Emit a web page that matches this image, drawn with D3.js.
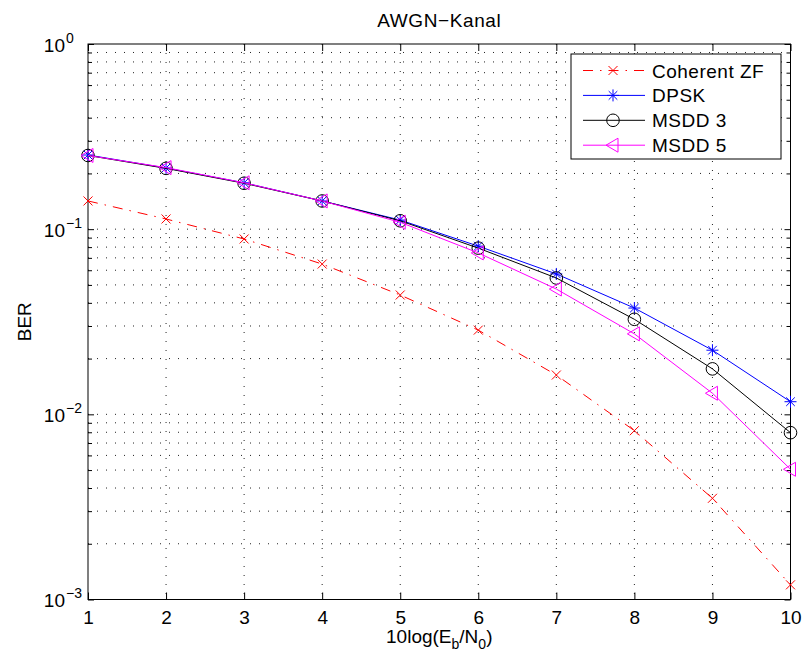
<!DOCTYPE html>
<html>
<head>
<meta charset="utf-8">
<script src="https://cdn.jsdelivr.net/npm/d3@7"></script>
<style>
  body { margin: 0; background: #fff; }
  text { font-family: "Liberation Sans", Arial, sans-serif; fill: #000; }
</style>
</head>
<body>
<div class="chart"></div>
<script>
// Eb/N0 in dB
const snrDb = [1, 2, 3, 4, 5, 6, 7, 8, 9, 10];
const berCoherentZF = [0.142, 0.1135, 0.0885, 0.0648, 0.0441, 0.0285, 0.0163, 0.00816, 0.00352, 0.0012];
const berDPSK = [0.2515, 0.214, 0.178, 0.142, 0.112, 0.081, 0.0573, 0.0375, 0.0222, 0.0117];
const berMSDD3 = [0.25, 0.213, 0.177, 0.142, 0.111, 0.079, 0.0545, 0.0326, 0.0176, 0.00796];
const berMSDD5 = [0.25, 0.215, 0.178, 0.142, 0.109, 0.0744, 0.0475, 0.0272, 0.0130, 0.00505];
const seriesNames = ["Coherent ZF", "DPSK", "MSDD 3", "MSDD 5"];
const xTicks = [1, 2, 3, 4, 5, 6, 7, 8, 9, 10];
const yDecades = [-3, -2, -1, 0];

const margin = { top: 44, right: 12.5, bottom: 55.5, left: 88 },
  width = 803 - margin.left - margin.right,
  height = 655 - margin.top - margin.bottom,
  fontSize = 19

const series = [
  { name: seriesNames[0], values: berCoherentZF, color: "#ff0000", dash: "10,7,1.5,7", marker: "x" },
  { name: seriesNames[1], values: berDPSK, color: "#0000ff", dash: null, marker: "star" },
  { name: seriesNames[2], values: berMSDD3, color: "#000000", dash: null, marker: "circle" },
  { name: seriesNames[3], values: berMSDD5, color: "#ff00ff", dash: null, marker: "triangle" }
]

const svg = d3.select(".chart").append("svg")
  .attr("width", 803)
  .attr("height", 655)
  .append("g")
  .attr("transform", "translate(" + margin.left + "," + margin.top + ")");

const x = d3.scaleLinear().domain([1, 10]).range([0, width]);
const y = d3.scaleLog().domain([1e-3, 1]).range([height, 0]);

// minor log values 2..9 per decade
const minorVals = [];
yDecades.slice(0, -1).forEach(d => {
  for (let k = 2; k <= 9; k++) minorVals.push(k * Math.pow(10, d));
});
const majorVals = yDecades.map(d => Math.pow(10, d));

// grid
const grid = svg.append("g").attr("class", "grid")
  .attr("stroke", "#222").attr("stroke-width", 1).attr("stroke-dasharray", "1,8");

grid.selectAll(".vgrid")
  .data(xTicks.slice(1, -1))
  .enter().append("line")
  .attr("x1", d => x(d)).attr("x2", d => x(d))
  .attr("y1", 0).attr("y2", height);

grid.selectAll(".hgrid")
  .data(minorVals.concat(majorVals.slice(1, -1)))
  .enter().append("line")
  .attr("x1", 0).attr("x2", width)
  .attr("y1", d => y(d)).attr("y2", d => y(d));

// ticks, pointing inward on all four sides
svg.append("g")
  .attr("transform", "translate(0," + height + ")")
  .call(d3.axisBottom(x).tickValues(xTicks).tickSize(-7).tickPadding(11).tickFormat(d3.format("d")))
  .call(g => g.select(".domain").remove())
  .call(g => g.selectAll("text").style("font-size", fontSize + "px").style("font-family", null));

svg.append("g")
  .call(d3.axisTop(x).tickValues(xTicks).tickSize(-7).tickFormat(""))
  .call(g => g.select(".domain").remove());

[[d3.axisLeft, 0], [d3.axisRight, width]].forEach(([axisFn, offset]) => {
  svg.append("g")
    .attr("transform", "translate(" + offset + ",0)")
    .call(axisFn(y).tickValues(majorVals).tickSize(-6).tickFormat(""))
    .call(g => g.select(".domain").remove());
  svg.append("g")
    .attr("transform", "translate(" + offset + ",0)")
    .call(axisFn(y).tickValues(minorVals).tickSize(-4).tickFormat(""))
    .call(g => g.select(".domain").remove());
});

// y tick labels as 10^n
const yLabels = svg.selectAll(".yLabel")
  .data(yDecades)
  .enter().append("g")
  .attr("class", "yLabel");

yLabels.append("text")
  .attr("x", -23).attr("y", d => y(Math.pow(10, d)) + 7.5)
  .style("text-anchor", "end")
  .style("font-size", fontSize + "px")
  .text("10");

yLabels.append("text")
  .attr("x", -22).attr("y", d => y(Math.pow(10, d)) - 1.5)
  .style("text-anchor", "start")
  .style("font-size", "14px")
  .text(d => d < 0 ? "\u2212" + (-d) : String(d));

// axes box
svg.append("rect")
  .attr("width", width).attr("height", height)
  .attr("fill", "none").attr("stroke", "#000").attr("stroke-width", 1);

// markers
const drawMarker = (g, type, color) => {
  if (type === "x") {
    g.append("path").attr("d", "M-4.5,-4.5L4.5,4.5M-4.5,4.5L4.5,-4.5")
      .attr("stroke", color).attr("fill", "none");
  } else if (type === "star") {
    g.append("path").attr("d", "M-6,0L6,0M0,-6L0,6M-4.3,-4.3L4.3,4.3M-4.3,4.3L4.3,-4.3")
      .attr("stroke", color).attr("fill", "none");
  } else if (type === "circle") {
    g.append("circle").attr("r", 6.3)
      .attr("stroke", color).attr("fill", "none");
  } else if (type === "triangle") {
    g.append("path").attr("d", "M-7,0L5,-7L5,7Z")
      .attr("stroke", color).attr("fill", "none");
  }
};

const line = d3.line()
  .x((d, i) => x(snrDb[i]))
  .y(d => y(d));

series.forEach(s => {
  svg.append("path")
    .datum(s.values)
    .attr("d", line)
    .attr("fill", "none")
    .attr("stroke", s.color)
    .attr("stroke-width", 1)
    .attr("stroke-dasharray", s.dash);

  svg.selectAll(".pt-" + s.marker)
    .data(s.values)
    .enter().append("g")
    .attr("class", "pt-" + s.marker)
    .attr("transform", (d, i) => "translate(" + x(snrDb[i]) + "," + y(d) + ")")
    .each(function () { drawMarker(d3.select(this), s.marker, s.color); });
});

// title and axis labels
svg.append("text")
  .attr("x", width / 2).attr("y", 27 - margin.top)
  .style("text-anchor", "middle")
  .style("font-size", "19px")
  .style("letter-spacing", "0.6px")
  .text("AWGN\u2212Kanal");

const xLabel = svg.append("text")
  .attr("x", width / 2).attr("y", 643 - margin.top)
  .style("text-anchor", "middle")
  .style("font-size", fontSize + "px");
xLabel.append("tspan").text("10log(E");
xLabel.append("tspan").attr("dy", 6).style("font-size", "14px").text("b");
xLabel.append("tspan").attr("dy", -6).text("/N");
xLabel.append("tspan").attr("dy", 6).style("font-size", "14px").text("0");
xLabel.append("tspan").attr("dy", -6).text(")");

svg.append("text")
  .attr("transform", "translate(" + (31 - margin.left) + "," + height / 2 + ") rotate(-90)")
  .style("text-anchor", "middle")
  .style("font-size", fontSize + "px")
  .text("BER");

// legend
const legend = svg.append("g")
  .attr("class", "legend")
  .attr("transform", "translate(" + (571 - margin.left) + "," + (54 - margin.top) + ")");

legend.append("rect")
  .attr("width", 210).attr("height", 105)
  .attr("fill", "#fff").attr("stroke", "#000");

const legendItems = legend.selectAll(".legendItem")
  .data(series)
  .enter().append("g")
  .attr("class", "legendItem")
  .attr("transform", (d, i) => "translate(0," + (16.5 + i * 24.9) + ")");

legendItems.append("line")
  .attr("x1", 12).attr("x2", 74)
  .attr("stroke", d => d.color)
  .attr("stroke-dasharray", d => d.dash);

legendItems.append("g")
  .attr("transform", "translate(42,0)")
  .each(function (d) { drawMarker(d3.select(this), d.marker, d.color); });

legendItems.append("text")
  .attr("x", 81).attr("y", 7)
  .style("font-size", fontSize + "px")
  .style("letter-spacing", "0.5px")
  .text(d => d.name);
</script>
</body>
</html>
